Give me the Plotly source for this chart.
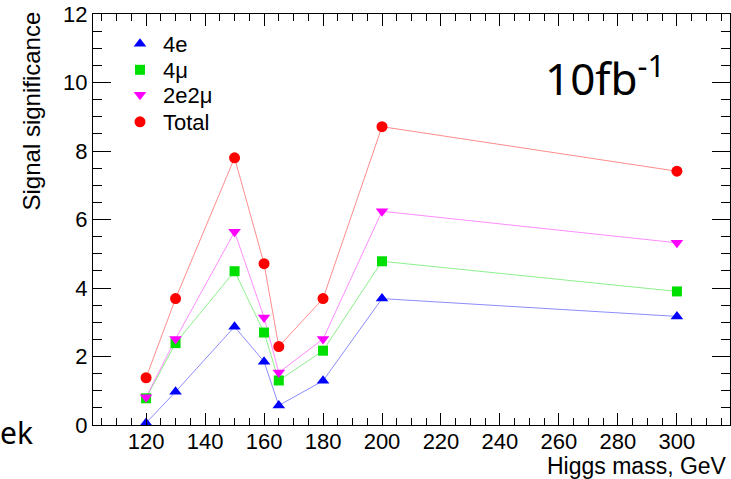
import plotly.graph_objects as go

# ---- data ----
mass = [120, 130, 150, 160, 165, 180, 200, 300]
sig_4e = [0.06, 0.97, 2.87, 1.85, 0.57, 1.29, 3.69, 3.17]
sig_4mu = [0.78, 2.39, 4.49, 2.70, 1.30, 2.17, 4.78, 3.90]
sig_2e2mu = [0.81, 2.51, 5.64, 3.14, 1.53, 2.51, 6.24, 5.32]
sig_total = [1.38, 3.69, 7.80, 4.71, 2.29, 3.69, 8.71, 7.41]

series_names = ["4e", "4\u03bc", "2e2\u03bc", "Total"]
series_values = [sig_4e, sig_4mu, sig_2e2mu, sig_total]
marker_colors = ["#0000ff", "#00e000", "#ff00ff", "#ff0000"]
line_colors = ["#8c8cff", "#8cf08c", "#ff8cff", "#ff8c8c"]
marker_symbols = ["triangle-up", "square", "triangle-down", "circle"]
marker_sizes = [11, 10, 11, 11]

x_ticks = [120, 140, 160, 180, 200, 220, 240, 260, 280, 300]
y_ticks = [0, 2, 4, 6, 8, 10, 12]

W, H = 731, 479
L, R, T, B = 93, 1, 14, 54
PW, PH = W - L - R, H - T - B


def px_x(p):
    return (p - L) / PW


def px_y(p):
    return (H - B - p) / PH


fig = go.Figure()

legend_ids = ["legend", "legend2", "legend3", "legend4"]
for i, (name, vals) in enumerate(zip(series_names, series_values)):
    fig.add_trace(go.Scatter(
        x=mass, y=vals, mode="lines",
        line=dict(color=line_colors[i], width=1),
        showlegend=False, hoverinfo="skip", cliponaxis=False,
    ))
for i, (name, vals) in enumerate(zip(series_names, series_values)):
    fig.add_trace(go.Scatter(
        x=mass, y=vals, mode="markers", name=name,
        marker=dict(symbol=marker_symbols[i], color=marker_colors[i],
                    size=marker_sizes[i], line=dict(width=0)),
        legend=legend_ids[i], cliponaxis=False,
    ))

legend_rows_y = [44, 70, 95, 122]
leg_common = dict(
    font=dict(family="Liberation Sans, Arial, sans-serif", size=22, color="black"),
    bgcolor="rgba(0,0,0,0)", borderwidth=0, itemwidth=36,
    xanchor="left", yanchor="middle", x=px_x(117),
)
layout_legends = {}
for lid, ry in zip(legend_ids, legend_rows_y):
    layout_legends[lid] = dict(leg_common, y=px_y(ry))

axis_font = dict(family="Liberation Sans, Arial, sans-serif", size=22, color="black")

fig.update_layout(
    width=W, height=H,
    margin=dict(l=L, r=R, t=T, b=B, pad=0),
    paper_bgcolor="white", plot_bgcolor="white",
    showlegend=True,
    xaxis=dict(
        range=[102, 318], tickvals=x_ticks, ticktext=[str(v) for v in x_ticks],
        ticks="inside", ticklen=12, tickwidth=1, tickcolor="black",
        minor=dict(dtick=5, tick0=100, ticks="inside", ticklen=7, tickwidth=1,
                   tickcolor="black", showgrid=False),
        showline=True, linecolor="black", linewidth=1, mirror="ticks",
        showgrid=False, zeroline=False, tickfont=axis_font,
        ticklabelstandoff=-3,
    ),
    yaxis=dict(
        range=[0, 12], tickvals=y_ticks, ticktext=[str(v) for v in y_ticks],
        ticks="inside", ticklen=18, tickwidth=1, tickcolor="black",
        minor=dict(dtick=0.5, tick0=0, ticks="inside", ticklen=9, tickwidth=1,
                   tickcolor="black", showgrid=False),
        showline=True, linecolor="black", linewidth=1, mirror="ticks",
        showgrid=False, zeroline=False, tickfont=axis_font,
    ),
    **layout_legends,
)

fig.add_annotation(
    text="Signal significance", textangle=-90, showarrow=False,
    xref="paper", yref="paper", x=px_x(31), y=px_y(10),
    xanchor="center", yanchor="top",
    font=dict(family="Liberation Sans, Arial, sans-serif", size=24, color="black"),
)
fig.add_annotation(
    text="Higgs mass, GeV", showarrow=False,
    xref="paper", yref="paper", x=px_x(729), y=px_y(466),
    xanchor="right", yanchor="middle",
    font=dict(family="Liberation Sans, Arial, sans-serif", size=23, color="black"),
)
fig.add_annotation(
    text="10fb<sup>-1</sup>", showarrow=False,
    xref="paper", yref="paper", x=px_x(543), y=px_y(76),
    xanchor="left", yanchor="middle",
    font=dict(family="Noto Sans, Open Sans, sans-serif", size=44, color="black"),
)
fig.add_annotation(
    text="ek", showarrow=False,
    xref="paper", yref="paper", x=px_x(-2), y=px_y(432),
    xanchor="left", yanchor="middle",
    font=dict(family="Noto Sans, Open Sans, sans-serif", size=30, color="black"),
)

fig.write_html("out.html")
